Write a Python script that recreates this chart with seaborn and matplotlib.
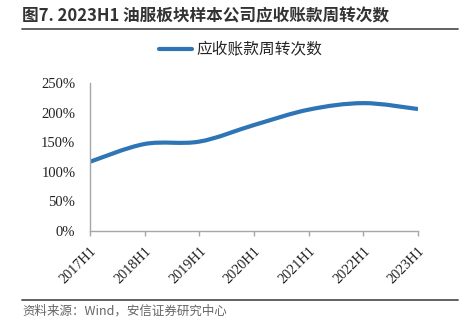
import numpy as np
import pandas as pd
import matplotlib
matplotlib.use("Agg")
import matplotlib.pyplot as plt
from matplotlib.path import Path
from matplotlib.patches import PathPatch
from matplotlib.lines import Line2D
import seaborn as sns

categories = ["2017H1", "2018H1", "2019H1", "2020H1", "2021H1", "2022H1", "2023H1"]
turnover = [117, 147, 151, 179, 205, 216, 206]  # percent
yticks = [0, 50, 100, 150, 200, 250]
series_name = "应收账款周转次数"
title = "图7. 2023H1 油服板块样本公司应收账款周转次数"
source = "资料来源：Wind，安信证券研究中心"

sns.set_theme(style="white")
plt.rcParams['font.family'] = ['Noto Sans CJK SC', 'DejaVu Sans']

W, H = 468, 334
fig = plt.figure(figsize=(W / 100, H / 100), dpi=100)
ax = fig.add_axes([90 / W, 1 - 231 / H, (418 - 90) / W, (231 - 83) / H])

df = pd.DataFrame({"x": np.arange(len(categories)), "y": turnover})
color = "#2E75B6"
# base line through seaborn (invisible), smooth Bezier overlay drawn in data coords
sns.lineplot(data=df, x="x", y="y", ax=ax, color=color, linewidth=0, legend=False)

pts = df[["x", "y"]].to_numpy(dtype=float)
n = len(pts)
verts = [tuple(pts[0])]
codes = [Path.MOVETO]
for i in range(n - 1):
    p0 = pts[i - 1] if i > 0 else pts[i]
    p1 = pts[i]
    p2 = pts[i + 1]
    p3 = pts[i + 2] if i + 2 < n else pts[i + 1]
    c1 = p1 + (p2 - p0) / 6.0
    c2 = p2 - (p3 - p1) / 6.0
    verts += [tuple(c1), tuple(c2), tuple(p2)]
    codes += [Path.CURVE4] * 3
ax.add_patch(PathPatch(Path(verts, codes), facecolor="none", edgecolor=color,
                       linewidth=3.0, capstyle="butt", joinstyle="round"))

ax.set_xlim(0, len(categories) - 1)
ax.set_ylim(0, 250)
ax.set_xticks(df["x"])
ax.set_xticklabels(categories, rotation=45, ha="right", va="top",
                   rotation_mode="anchor", family="Liberation Serif", fontsize=10.3)
ax.set_yticks(yticks)
ax.set_yticklabels([f"{v}%" for v in yticks], family="Liberation Serif", fontsize=10.5)
ax.set_xlabel("")
ax.set_ylabel("")

gray = "#A6A6A6"
for s in ["top", "right"]:
    ax.spines[s].set_visible(False)
for s in ["left", "bottom"]:
    ax.spines[s].set_color(gray)
    ax.spines[s].set_linewidth(1.0)
ax.tick_params(axis="both", which="major", direction="out", length=3.5, width=1.0,
               color=gray, labelcolor="#222222")
ax.tick_params(axis="y", pad=7)
ax.tick_params(axis="x", pad=6, bottom=True)
ax.patch.set_alpha(0)

handle = Line2D([], [], color=color, linewidth=3.0)
fig.legend([handle], [series_name], loc="center", bbox_to_anchor=(241 / W, 1 - 50 / H),
           frameon=False, handlelength=2.1, handletextpad=0.3,
           prop={"family": ["Noto Sans CJK SC"], "size": 11.3})

fig.text(22 / W, 1 - 16 / H, title, ha="left", va="center", fontsize=12,
         fontweight="bold", color="#333333")
fig.add_artist(Line2D([22 / W, 458 / W], [1 - 28.5 / H, 1 - 28.5 / H],
                      color="#555555", linewidth=1.3))
fig.add_artist(Line2D([22 / W, 458 / W], [1 - 299.5 / H, 1 - 299.5 / H],
                      color="#555555", linewidth=1.3))
fig.text(22 / W, 1 - 311.5 / H, source, ha="left", va="center", fontsize=9,
         style="italic", color="#666666")

fig.savefig("out.png", dpi=100)
